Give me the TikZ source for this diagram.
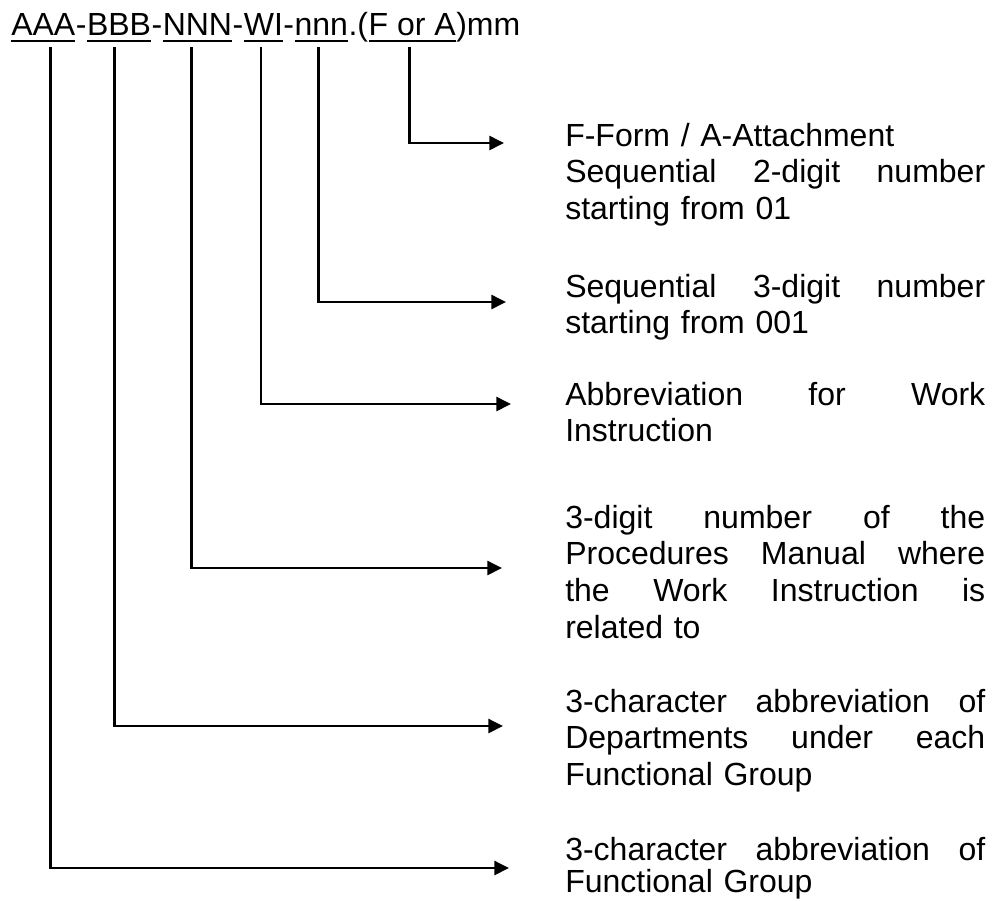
\documentclass[tikz,border=0pt]{standalone}
\usepackage{fontspec}
\setmainfont{Liberation Sans}
\usetikzlibrary{arrows.meta,positioning}
\newsavebox{\fieldbox}
\newcommand{\field}[1]{\sbox{\fieldbox}{#1}%
  \rlap{\rule[-5.6pt]{\wd\fieldbox}{1.9pt}}\usebox{\fieldbox}}
\newcommand{\docfont}{\fontsize{24}{27.6}\selectfont}

\begin{document}
\begin{tikzpicture}[
    x=0.75pt, y=-0.75pt,
    title/.style={inner sep=0pt, font=\docfont},
    field/.style={title, outer ysep=3.4pt},
    desc/.style={
      anchor=base west, inner sep=0pt, text width=315pt,
      align=left, font=\docfont
    },
    link/.style={-{Triangle[length=11pt,width=10.5pt]}, line width=1.9pt}
  ]
  \useasboundingbox (0,0) rectangle (999,900);

  % the code, one node per part
  \node[field, anchor=base west] (AAA) at (11,35) {\field{AAA}};
  \node[title, base right=0pt of AAA] (s1) {-};
  \node[field, base right=0pt of s1] (BBB) {\field{BBB}};
  \node[title, base right=0pt of BBB] (s2) {-};
  \node[field, base right=0pt of s2] (NNN) {\field{NNN}};
  \node[title, base right=0pt of NNN] (s3) {-};
  \node[field, base right=0pt of s3] (WI) {\field{WI}};
  \node[title, base right=0pt of WI] (s4) {-};
  \node[field, base right=0pt of s4] (nnn) {\field{nnn}};
  \node[title, base right=0pt of nnn] (s5) {.(};
  \node[field, base right=0pt of s5] (FA) {\field{F or A}};
  \node[title, base right=0pt of FA] (mm) {)mm};

  % descriptions
  \node[desc] (dFA) at (565,146) {F-Form / A-Attachment\\
    Sequential\hfill 2-digit\hfill number\\
    starting from 01};
  \node[desc] (dnnn) at (565,297) {Sequential\hfill 3-digit\hfill number\\
    starting from 001};
  \node[desc] (dWI) at (565,405) {Abbreviation\hfill for\hfill Work\\
    Instruction};
  \node[desc] (dNNN) at (565,528) {3-digit\hfill number\hfill of\hfill the\\
    Procedures\hfill Manual\hfill where\\
    the\hfill Work\hfill Instruction\hfill is\\
    related to};
  \node[desc] (dBBB) at (565,712) {3-character\hfill abbreviation\hfill of\\
    Departments\hfill under\hfill each\\
    Functional Group};
  \node[desc] (dAAA) at (565,860) {3-character\hfill abbreviation\hfill of\\[-2.9pt]
    Functional Group};

  % arrow ends
  \coordinate (tFA) at (504,143);
  \coordinate (tnnn) at (506,302);
  \coordinate (tWI) at (511,404);
  \coordinate (tNNN) at (502,568);
  \coordinate (tBBB) at (503,726);
  \coordinate (tAAA) at (509,868);

  \draw[link] ([xshift=-1.85pt]FA.south) |- (tFA);
  \draw[link] ([xshift=-2.25pt]nnn.south) |- (tnnn);
  \draw[link] ([xshift=-1.75pt]WI.south) |- (tWI);
  \draw[link] ([xshift=-4.5pt]NNN.south) |- (tNNN);
  \draw[link] ([xshift=-3.5pt]BBB.south) |- (tBBB);
  \draw[link] ([xshift=5.25pt]AAA.south) |- (tAAA);
\end{tikzpicture}
\end{document}
